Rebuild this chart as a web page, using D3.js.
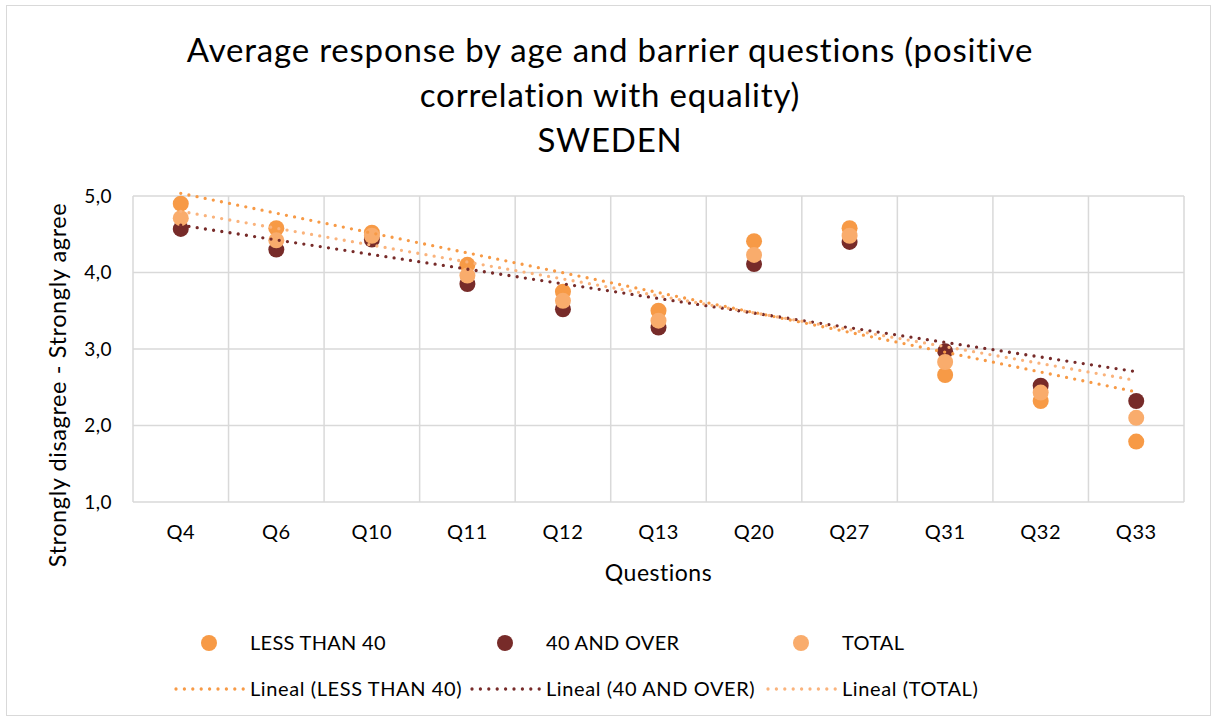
<!DOCTYPE html>
<html>
<head>
<meta charset="utf-8">
<script src="https://cdn.jsdelivr.net/npm/d3@7"></script>
<style>
  body { margin: 0; background: #fff; }
  text { font-family: Lato, "Open Sans", sans-serif; fill: #000; }
</style>
</head>
<body>
<svg id="chart" width="1214" height="720"></svg>
<script>
var questions = ["Q4", "Q6", "Q10", "Q11", "Q12", "Q13", "Q20", "Q27", "Q31", "Q32", "Q33"];
var lessThan40 = [4.90, 4.58, 4.52, 4.10, 3.75, 3.50, 4.41, 4.58, 2.66, 2.32, 1.79];
var over40 = [4.57, 4.30, 4.43, 3.85, 3.52, 3.28, 4.11, 4.40, 2.97, 2.52, 2.32];
var total = [4.71, 4.42, 4.48, 3.96, 3.63, 3.37, 4.23, 4.48, 2.83, 2.43, 2.10];
var yTicks = [1, 2, 3, 4, 5];

var seriesNames = ["LESS THAN 40", "40 AND OVER", "TOTAL"];
var seriesColors = ["#f79a46", "#772b29", "#f9ac6c"];
var trendColors = ["#f79a46", "#772b29", "#fab37c"];

var svg = d3.select("#chart");

// outer frame
svg.append("rect")
    .attr("x", 6.5).attr("y", 5.5)
    .attr("width", 1204).attr("height", 710)
    .attr("fill", "none").attr("stroke", "#d9d9d9");

var plotLeft = 133, plotRight = 1184, plotTop = 196, plotBottom = 502;

var x = d3.scaleBand().domain(questions).range([plotLeft, plotRight]);
var y = d3.scaleLinear().domain([1, 5]).range([plotBottom, plotTop]);

// grid
var grid = svg.append("g").attr("stroke", "#d9d9d9").attr("stroke-width", 1.5);
grid.selectAll("line.h")
    .data(yTicks)
    .enter().append("line")
      .attr("x1", plotLeft).attr("x2", plotRight)
      .attr("y1", function(d) { return y(d); })
      .attr("y2", function(d) { return y(d); });
grid.selectAll("line.v")
    .data(questions.concat(["end"]))
    .enter().append("line")
      .attr("x1", function(d, i) { return plotLeft + i * x.step(); })
      .attr("x2", function(d, i) { return plotLeft + i * x.step(); })
      .attr("y1", plotTop).attr("y2", plotBottom);

// axes
var yAxis = svg.append("g")
    .attr("transform", "translate(" + plotLeft + ",0)")
    .call(d3.axisLeft(y).tickValues(yTicks).tickSize(0).tickPadding(21)
      .tickFormat(function(d) { return d3.format(".1f")(d).replace(".", ","); }));
yAxis.select(".domain").remove();
yAxis.selectAll("text").style("font-size", "19px").style("letter-spacing", "0.5px").attr("fill", "#000");

var xAxis = svg.append("g")
    .attr("transform", "translate(0," + plotBottom + ")")
    .call(d3.axisBottom(x).tickSize(0).tickPadding(23));
xAxis.select(".domain").remove();
xAxis.selectAll("text").style("font-size", "20px").style("letter-spacing", "0.5px").attr("fill", "#000");

svg.append("text")
    .attr("x", (plotLeft + plotRight) / 2).attr("y", 581)
    .attr("text-anchor", "middle").style("font-size", "23px")
    .style("letter-spacing", "0.5px")
    .text("Questions");

svg.append("text")
    .attr("transform", "translate(66,385) rotate(-90)")
    .attr("text-anchor", "middle").style("font-size", "23.5px")
    .style("letter-spacing", "0.6px")
    .text("Strongly disagree - Strongly agree");

// title
var titleLines = ["Average response by age and barrier questions (positive", "correlation with equality)", "SWEDEN"];
svg.append("g").selectAll("text")
    .data(titleLines)
    .enter().append("text")
      .attr("x", 610)
      .attr("y", function(d, i) { return 62 + i * 45; })
      .attr("text-anchor", "middle")
      .style("font-size", "33px")
      .style("letter-spacing", "0.8px")
      .text(function(d) { return d; });

// points
var allSeries = [lessThan40, over40, total];
allSeries.forEach(function(values, s) {
  svg.append("g").selectAll("circle")
      .data(values)
      .enter().append("circle")
        .attr("cx", function(d, i) { return x(questions[i]) + x.bandwidth() / 2; })
        .attr("cy", function(d) { return y(d); })
        .attr("r", 8)
        .attr("fill", seriesColors[s]);
});

// linear trend lines
function linearFit(values) {
  var n = values.length;
  var mx = (n + 1) / 2;
  var my = d3.mean(values);
  var sxy = 0, sxx = 0;
  for (var i = 0; i < n; i++) {
    sxy += (i + 1 - mx) * (values[i] - my);
    sxx += (i + 1 - mx) * (i + 1 - mx);
  }
  var slope = sxy / sxx;
  return [my + slope * (1 - mx), my + slope * (n - mx)];
}

allSeries.forEach(function(values, s) {
  var ends = linearFit(values);
  svg.append("line")
      .attr("x1", x(questions[0]) + x.bandwidth() / 2)
      .attr("x2", x(questions[questions.length - 1]) + x.bandwidth() / 2)
      .attr("y1", y(ends[0]))
      .attr("y2", y(ends[1]))
      .attr("stroke", trendColors[s])
      .attr("stroke-width", 3.3)
      .attr("stroke-linecap", "round")
      .attr("stroke-dasharray", "0 8.3");
});

// legend
var legendX = [176, 472, 768];
var legend = svg.append("g");
seriesNames.forEach(function(name, s) {
  legend.append("circle")
      .attr("cx", legendX[s] + 33).attr("cy", 643)
      .attr("r", 8).attr("fill", seriesColors[s]);
  legend.append("text")
      .attr("x", legendX[s] + 74).attr("y", 643)
      .attr("dy", "0.35em").style("font-size", "20px")
      .style("letter-spacing", "0.3px")
      .text(name);
  legend.append("line")
      .attr("x1", legendX[s]).attr("x2", legendX[s] + 68)
      .attr("y1", 689).attr("y2", 689)
      .attr("stroke", trendColors[s]).attr("stroke-width", 3.3)
      .attr("stroke-linecap", "round").attr("stroke-dasharray", "0 8.4");
  legend.append("text")
      .attr("x", legendX[s] + 74).attr("y", 689)
      .attr("dy", "0.35em").style("font-size", "20px")
      .style("letter-spacing", "0.6px")
      .text("Lineal (" + name + ")");
});
</script>
</body>
</html>
